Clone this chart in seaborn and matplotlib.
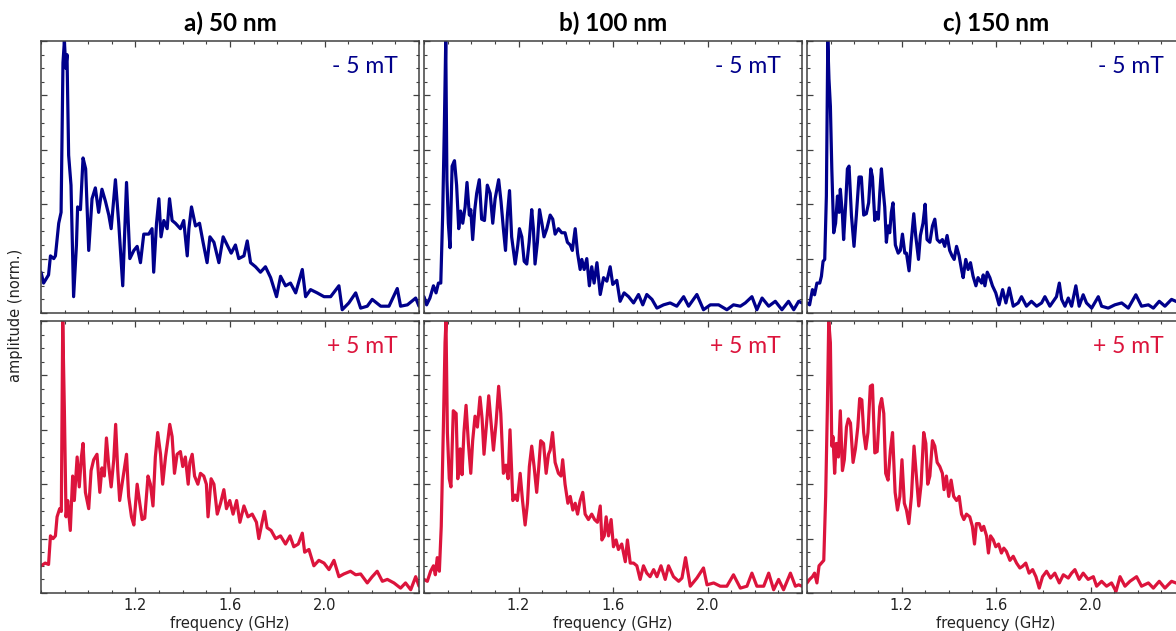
import numpy as np
import pandas as pd
import matplotlib
matplotlib.use("Agg")
import matplotlib.pyplot as plt
from matplotlib.ticker import MultipleLocator
import seaborn as sns

# --- Data (frequency in GHz, normalised amplitude) ---

# a) 50 nm, -5 mT
freq_a_minus = [0.800, 0.811, 0.832, 0.840, 0.854, 0.861, 0.875, 0.885, 0.893, 0.899, 0.905, 0.910, 0.917, 0.927,
                0.938, 0.950, 0.955, 0.967, 0.978, 0.989, 1.002, 1.016, 1.030, 1.044, 1.058, 1.073, 1.087, 1.097,
                1.115, 1.129, 1.146, 1.162, 1.176, 1.193, 1.207, 1.221, 1.235, 1.256, 1.270, 1.277, 1.289, 1.299,
                1.308, 1.320, 1.334, 1.344, 1.355, 1.369, 1.390, 1.404, 1.419, 1.426, 1.437, 1.454, 1.471, 1.486,
                1.503, 1.515, 1.532, 1.553, 1.571, 1.588, 1.605, 1.623, 1.637, 1.659, 1.673, 1.687, 1.708, 1.729,
                1.750, 1.772, 1.797, 1.814, 1.835, 1.856, 1.878, 1.906, 1.920, 1.941, 1.969, 1.998, 2.026, 2.061,
                2.075, 2.103, 2.132, 2.153, 2.181, 2.202, 2.238, 2.273, 2.308, 2.322, 2.351, 2.386, 2.400]
amp_a_minus = [0.15, 0.11, 0.14, 0.21, 0.20, 0.21, 0.33, 0.37, 0.92, 1.00, 0.90, 0.95, 0.58, 0.47,
               0.06, 0.25, 0.39, 0.38, 0.57, 0.53, 0.23, 0.42, 0.46, 0.37, 0.455, 0.41, 0.36, 0.31,
               0.49, 0.33, 0.10, 0.48, 0.20, 0.23, 0.245, 0.185, 0.29, 0.29, 0.31, 0.15, 0.33, 0.42,
               0.28, 0.34, 0.31, 0.42, 0.34, 0.33, 0.31, 0.34, 0.21, 0.31, 0.39, 0.32, 0.33, 0.26,
               0.185, 0.28, 0.26, 0.185, 0.28, 0.25, 0.22, 0.25, 0.20, 0.21, 0.265, 0.185, 0.17, 0.15,
               0.17, 0.13, 0.06, 0.135, 0.10, 0.11, 0.074, 0.16, 0.06, 0.086, 0.074, 0.06, 0.06, 0.10,
               0.012, 0.037, 0.074, 0.018, 0.025, 0.05, 0.025, 0.025, 0.09, 0.025, 0.03, 0.055, 0.025]

# a) 50 nm, +5 mT
freq_a_plus = [0.800, 0.818, 0.832, 0.840, 0.851, 0.861, 0.868, 0.879, 0.886, 0.892, 0.899, 0.906, 0.913, 0.924,
               0.934, 0.941, 0.953, 0.962, 0.971, 0.978, 0.988, 1.002, 1.012, 1.023, 1.037, 1.049, 1.058, 1.068,
               1.077, 1.087, 1.097, 1.108, 1.116, 1.125, 1.133, 1.143, 1.162, 1.171, 1.183, 1.193, 1.207, 1.218,
               1.228, 1.239, 1.253, 1.263, 1.274, 1.284, 1.294, 1.306, 1.315, 1.327, 1.338, 1.345, 1.355, 1.365,
               1.376, 1.390, 1.400, 1.411, 1.423, 1.430, 1.440, 1.450, 1.464, 1.475, 1.489, 1.500, 1.507, 1.520,
               1.532, 1.546, 1.560, 1.574, 1.585, 1.599, 1.613, 1.628, 1.642, 1.659, 1.676, 1.694, 1.712, 1.722,
               1.736, 1.746, 1.757, 1.774, 1.793, 1.814, 1.835, 1.854, 1.870, 1.889, 1.906, 1.916, 1.934, 1.955,
               1.976, 1.998, 2.019, 2.040, 2.061, 2.082, 2.110, 2.132, 2.153, 2.181, 2.202, 2.223, 2.245, 2.266,
               2.294, 2.322, 2.343, 2.365, 2.386, 2.400]
amp_a_plus = [0.10, 0.11, 0.105, 0.21, 0.20, 0.21, 0.28, 0.31, 0.30, 1.00, 0.67, 0.28, 0.34, 0.23,
              0.43, 0.34, 0.50, 0.39, 0.50, 0.55, 0.37, 0.31, 0.45, 0.49, 0.51, 0.37, 0.46, 0.43,
              0.57, 0.465, 0.39, 0.49, 0.62, 0.45, 0.34, 0.40, 0.51, 0.355, 0.28, 0.25, 0.40, 0.33,
              0.27, 0.275, 0.43, 0.40, 0.32, 0.50, 0.59, 0.51, 0.40, 0.50, 0.57, 0.62, 0.575, 0.44,
              0.51, 0.52, 0.465, 0.50, 0.40, 0.48, 0.51, 0.43, 0.40, 0.44, 0.43, 0.40, 0.28, 0.42,
              0.40, 0.29, 0.33, 0.38, 0.31, 0.34, 0.29, 0.34, 0.26, 0.32, 0.28, 0.29, 0.26, 0.20,
              0.26, 0.30, 0.24, 0.23, 0.20, 0.21, 0.18, 0.21, 0.17, 0.18, 0.22, 0.15, 0.16, 0.10,
              0.12, 0.11, 0.086, 0.12, 0.06, 0.07, 0.08, 0.067, 0.07, 0.037, 0.06, 0.08, 0.043, 0.05,
              0.037, 0.018, 0.037, 0.012, 0.06, 0.025]

# b) 100 nm, -5 mT
freq_b_minus = [0.800, 0.811, 0.825, 0.840, 0.851, 0.861, 0.871, 0.879, 0.886, 0.892, 0.897, 0.903, 0.910, 0.919,
                0.929, 0.938, 0.947, 0.955, 0.964, 0.974, 0.982, 0.992, 0.998, 1.006, 1.015, 1.023, 1.034, 1.044,
                1.056, 1.068, 1.080, 1.091, 1.101, 1.116, 1.126, 1.136, 1.145, 1.153, 1.162, 1.171, 1.186, 1.197,
                1.204, 1.214, 1.224, 1.235, 1.245, 1.256, 1.263, 1.270, 1.280, 1.289, 1.299, 1.308, 1.320, 1.334,
                1.345, 1.355, 1.369, 1.383, 1.397, 1.407, 1.419, 1.428, 1.440, 1.450, 1.461, 1.468, 1.478, 1.489,
                1.500, 1.510, 1.520, 1.532, 1.546, 1.560, 1.574, 1.588, 1.599, 1.616, 1.630, 1.647, 1.666, 1.687,
                1.708, 1.726, 1.743, 1.765, 1.786, 1.814, 1.842, 1.870, 1.899, 1.920, 1.955, 1.983, 2.012, 2.047,
                2.082, 2.110, 2.139, 2.160, 2.188, 2.209, 2.231, 2.259, 2.287, 2.315, 2.343, 2.365, 2.386, 2.400]
amp_b_minus = [0.06, 0.03, 0.055, 0.10, 0.074, 0.11, 0.11, 0.36, 0.68, 1.00, 0.49, 0.33, 0.24, 0.54,
               0.56, 0.47, 0.31, 0.375, 0.33, 0.39, 0.48, 0.36, 0.38, 0.27, 0.38, 0.44, 0.49, 0.345,
               0.34, 0.47, 0.44, 0.33, 0.42, 0.49, 0.41, 0.31, 0.23, 0.36, 0.45, 0.28, 0.18, 0.25,
               0.31, 0.28, 0.19, 0.18, 0.26, 0.38, 0.31, 0.18, 0.26, 0.38, 0.33, 0.28, 0.31, 0.36,
               0.345, 0.29, 0.31, 0.295, 0.295, 0.26, 0.25, 0.23, 0.31, 0.22, 0.16, 0.197, 0.16, 0.20,
               0.10, 0.17, 0.11, 0.185, 0.068, 0.13, 0.117, 0.17, 0.105, 0.12, 0.043, 0.074, 0.06, 0.037,
               0.068, 0.03, 0.068, 0.05, 0.018, 0.03, 0.037, 0.025, 0.06, 0.025, 0.068, 0.012, 0.03, 0.03,
               0.012, 0.03, 0.025, 0.037, 0.06, 0.012, 0.055, 0.025, 0.043, 0.012, 0.043, 0.012, 0.043, 0.037]

# b) 100 nm, +5 mT
freq_b_plus = [0.800, 0.814, 0.828, 0.840, 0.848, 0.856, 0.865, 0.873, 0.882, 0.889, 0.893, 0.899, 0.907, 0.914,
               0.924, 0.936, 0.943, 0.953, 0.961, 0.969, 0.978, 0.988, 0.998, 1.006, 1.016, 1.026, 1.037, 1.046,
               1.054, 1.065, 1.074, 1.084, 1.094, 1.105, 1.116, 1.125, 1.136, 1.147, 1.156, 1.164, 1.176, 1.186,
               1.195, 1.207, 1.217, 1.228, 1.238, 1.246, 1.256, 1.266, 1.277, 1.286, 1.294, 1.306, 1.317, 1.327,
               1.334, 1.344, 1.355, 1.369, 1.380, 1.387, 1.397, 1.409, 1.419, 1.430, 1.440, 1.450, 1.461, 1.472,
               1.482, 1.496, 1.510, 1.522, 1.534, 1.546, 1.553, 1.563, 1.571, 1.581, 1.592, 1.602, 1.613, 1.623,
               1.637, 1.652, 1.661, 1.673, 1.687, 1.701, 1.715, 1.729, 1.743, 1.757, 1.772, 1.786, 1.803, 1.821,
               1.835, 1.856, 1.878, 1.892, 1.907, 1.927, 1.955, 1.983, 1.998, 2.026, 2.054, 2.082, 2.110, 2.139,
               2.167, 2.188, 2.209, 2.238, 2.259, 2.280, 2.301, 2.322, 2.351, 2.372, 2.386, 2.400]
amp_b_plus = [0.05, 0.043, 0.08, 0.10, 0.067, 0.13, 0.08, 0.245, 0.61, 0.92, 1.00, 0.59, 0.42, 0.39,
              0.67, 0.66, 0.42, 0.53, 0.435, 0.59, 0.69, 0.55, 0.44, 0.56, 0.65, 0.61, 0.72, 0.64,
              0.51, 0.625, 0.725, 0.625, 0.525, 0.625, 0.76, 0.66, 0.44, 0.47, 0.42, 0.60, 0.34, 0.36,
              0.34, 0.44, 0.34, 0.25, 0.33, 0.465, 0.54, 0.465, 0.37, 0.465, 0.56, 0.55, 0.44, 0.51,
              0.525, 0.59, 0.48, 0.44, 0.43, 0.49, 0.40, 0.33, 0.355, 0.305, 0.33, 0.29, 0.34, 0.37,
              0.29, 0.27, 0.29, 0.27, 0.26, 0.32, 0.195, 0.21, 0.28, 0.21, 0.27, 0.17, 0.195, 0.16,
              0.18, 0.115, 0.195, 0.11, 0.11, 0.10, 0.05, 0.10, 0.073, 0.06, 0.086, 0.06, 0.10, 0.05,
              0.10, 0.06, 0.043, 0.055, 0.13, 0.025, 0.055, 0.092, 0.03, 0.037, 0.025, 0.025, 0.067, 0.018,
              0.025, 0.073, 0.025, 0.025, 0.073, 0.012, 0.05, 0.012, 0.073, 0.025, 0.03, 0.025]

# c) 150 nm, -5 mT
freq_c_minus = [0.800, 0.811, 0.823, 0.832, 0.842, 0.854, 0.861, 0.868, 0.875, 0.882, 0.888, 0.893, 0.899, 0.905,
                0.913, 0.921, 0.929, 0.936, 0.941, 0.950, 0.955, 0.964, 0.971, 0.978, 0.988, 0.999, 1.009, 1.020,
                1.030, 1.040, 1.051, 1.061, 1.070, 1.077, 1.087, 1.094, 1.102, 1.108, 1.115, 1.122, 1.129, 1.136,
                1.143, 1.150, 1.157, 1.164, 1.174, 1.186, 1.195, 1.204, 1.214, 1.221, 1.232, 1.241, 1.252, 1.260,
                1.272, 1.280, 1.291, 1.300, 1.308, 1.320, 1.331, 1.341, 1.351, 1.362, 1.373, 1.383, 1.393, 1.404,
                1.414, 1.423, 1.433, 1.444, 1.454, 1.461, 1.472, 1.482, 1.492, 1.503, 1.515, 1.524, 1.539, 1.546,
                1.553, 1.563, 1.574, 1.585, 1.599, 1.613, 1.628, 1.642, 1.656, 1.673, 1.694, 1.708, 1.729, 1.750,
                1.772, 1.793, 1.807, 1.828, 1.856, 1.868, 1.878, 1.892, 1.906, 1.920, 1.938, 1.952, 1.969, 1.983,
                2.005, 2.033, 2.047, 2.075, 2.103, 2.132, 2.160, 2.192, 2.216, 2.245, 2.266, 2.291, 2.315, 2.343,
                2.362, 2.380, 2.400]
amp_c_minus = [0.037, 0.03, 0.086, 0.067, 0.11, 0.11, 0.135, 0.19, 0.197, 0.43, 1.00, 0.86, 0.76, 0.53,
               0.295, 0.33, 0.43, 0.37, 0.455, 0.36, 0.27, 0.405, 0.53, 0.54, 0.36, 0.245, 0.36, 0.50,
               0.50, 0.36, 0.365, 0.405, 0.53, 0.50, 0.34, 0.37, 0.345, 0.44, 0.53, 0.455, 0.39, 0.26,
               0.32, 0.295, 0.37, 0.405, 0.25, 0.22, 0.23, 0.29, 0.22, 0.22, 0.155, 0.26, 0.365, 0.285,
               0.197, 0.285, 0.33, 0.40, 0.27, 0.26, 0.32, 0.345, 0.27, 0.26, 0.27, 0.245, 0.285, 0.23,
               0.21, 0.197, 0.245, 0.21, 0.16, 0.13, 0.197, 0.16, 0.185, 0.135, 0.10, 0.13, 0.11, 0.14,
               0.10, 0.15, 0.13, 0.10, 0.074, 0.03, 0.086, 0.037, 0.092, 0.025, 0.037, 0.06, 0.025, 0.043,
               0.025, 0.037, 0.06, 0.025, 0.06, 0.11, 0.05, 0.025, 0.055, 0.025, 0.10, 0.025, 0.067, 0.037,
               0.018, 0.06, 0.025, 0.018, 0.03, 0.037, 0.018, 0.067, 0.025, 0.03, 0.018, 0.043, 0.025, 0.05,
               0.043, 0.035, 0.03]

# c) 150 nm, +5 mT
freq_c_plus = [0.800, 0.811, 0.823, 0.832, 0.842, 0.851, 0.861, 0.871, 0.879, 0.886, 0.892, 0.899, 0.905, 0.910,
               0.917, 0.924, 0.933, 0.941, 0.950, 0.958, 0.967, 0.975, 0.984, 0.995, 1.005, 1.015, 1.023, 1.032,
               1.040, 1.049, 1.058, 1.068, 1.077, 1.087, 1.097, 1.108, 1.116, 1.125, 1.133, 1.143, 1.153, 1.162,
               1.173, 1.183, 1.193, 1.202, 1.212, 1.221, 1.231, 1.242, 1.253, 1.263, 1.273, 1.283, 1.294, 1.303,
               1.311, 1.320, 1.331, 1.341, 1.351, 1.362, 1.373, 1.380, 1.390, 1.400, 1.410, 1.421, 1.433, 1.444,
               1.454, 1.464, 1.475, 1.489, 1.500, 1.509, 1.517, 1.529, 1.539, 1.548, 1.560, 1.568, 1.577, 1.588,
               1.599, 1.611, 1.623, 1.633, 1.644, 1.659, 1.673, 1.687, 1.701, 1.712, 1.726, 1.740, 1.755, 1.769,
               1.783, 1.797, 1.814, 1.831, 1.849, 1.868, 1.885, 1.906, 1.920, 1.934, 1.952, 1.969, 1.990, 2.012,
               2.026, 2.047, 2.068, 2.089, 2.108, 2.125, 2.146, 2.167, 2.195, 2.216, 2.245, 2.266, 2.291, 2.315,
               2.343, 2.362, 2.380, 2.400]
amp_c_plus = [0.037, 0.05, 0.06, 0.073, 0.037, 0.10, 0.11, 0.12, 0.355, 0.67, 1.00, 0.92, 0.54, 0.575,
              0.44, 0.55, 0.50, 0.67, 0.45, 0.49, 0.61, 0.64, 0.625, 0.48, 0.53, 0.61, 0.715, 0.71,
              0.59, 0.53, 0.59, 0.76, 0.765, 0.515, 0.52, 0.685, 0.715, 0.66, 0.44, 0.415, 0.525, 0.59,
              0.37, 0.305, 0.355, 0.49, 0.33, 0.305, 0.255, 0.355, 0.54, 0.43, 0.32, 0.40, 0.59, 0.55,
              0.40, 0.43, 0.56, 0.54, 0.48, 0.465, 0.44, 0.38, 0.43, 0.355, 0.415, 0.355, 0.34, 0.355,
              0.29, 0.27, 0.29, 0.28, 0.245, 0.18, 0.255, 0.255, 0.23, 0.245, 0.21, 0.147, 0.21, 0.196,
              0.17, 0.18, 0.147, 0.165, 0.153, 0.12, 0.135, 0.11, 0.092, 0.098, 0.11, 0.073, 0.086, 0.06,
              0.018, 0.06, 0.08, 0.055, 0.073, 0.037, 0.067, 0.055, 0.073, 0.086, 0.05, 0.073, 0.05, 0.06,
              0.025, 0.043, 0.025, 0.037, 0.006, 0.06, 0.025, 0.043, 0.06, 0.025, 0.037, 0.018, 0.043, 0.018,
              0.043, 0.037, 0.03, 0.04]

titles = ["a) 50 nm", "b) 100 nm", "c) 150 nm"]
field_labels = ["- 5 mT", "+ 5 mT"]
x_ticks = [1.2, 1.6, 2.0]

# --- Styling ---
BLUE = "#00008B"
RED = "#DC143C"
SPINE = "#404040"

sns.set_style("ticks")
plt.rcParams["font.family"] = ["DejaVu Sans"]
plt.rcParams["axes.edgecolor"] = SPINE
plt.rcParams["axes.linewidth"] = 1.1

series = [
    [(freq_a_minus, amp_a_minus), (freq_b_minus, amp_b_minus), (freq_c_minus, amp_c_minus)],
    [(freq_a_plus, amp_a_plus), (freq_b_plus, amp_b_plus), (freq_c_plus, amp_c_plus)],
]
row_colors = [BLUE, RED]

# --- Layout: axes placed by hand (the last column runs past the right edge) ---
W, H = 1176, 631
fig = plt.figure(figsize=(W / 100, H / 100), dpi=100)
col_left = [41, 424, 807]
row_top = [41, 321]
ax_w, ax_h = 378, 272

for r in range(2):
    for c in range(3):
        ax = fig.add_axes([col_left[c] / W, 1 - (row_top[r] + ax_h) / H, ax_w / W, ax_h / H])
        f, a = series[r][c]
        df = pd.DataFrame({"freq": f, "amp": a})
        sns.lineplot(data=df, x="freq", y="amp", ax=ax, color=row_colors[r],
                     linewidth=2.3, estimator=None, sort=False)
        ax.set_xlim(0.8, 2.4)
        ax.set_ylim(0, 1)
        ax.xaxis.set_major_locator(MultipleLocator(0.4))
        ax.xaxis.set_minor_locator(MultipleLocator(0.1))
        ax.yaxis.set_major_locator(MultipleLocator(0.2))
        ax.yaxis.set_minor_locator(MultipleLocator(0.05))
        ax.set_xticks(x_ticks)
        ax.tick_params(which="both", direction="in", top=True, right=True, color=SPINE,
                       labelleft=False, labelsize=10.5, labelcolor="#222222")
        ax.tick_params(which="major", length=4, width=0.9)
        ax.tick_params(which="minor", length=2.5, width=0.8)
        ax.set_ylabel("")
        if r == 0:
            ax.tick_params(labelbottom=False)
            ax.set_xlabel("")
            ax.set_title(titles[c], fontsize=17.5, fontweight="bold", color="black",
                         family=["Lato", "DejaVu Sans"], pad=7)
        else:
            ax.set_xticklabels([f"{t:.1f}" for t in x_ticks])
            ax.set_xlabel("frequency (GHz)", fontsize=10.5, labelpad=2, color="#222222")
        ax.text(0.945, 0.905, field_labels[r], transform=ax.transAxes, ha="right", va="center",
                fontsize=16.5, color=row_colors[r], family=["Lato", "DejaVu Sans"])

fig.text(0.013, 0.5, "amplitude (norm.)", rotation=90, ha="center", va="center",
         fontsize=10.5, color="#222222")

fig.savefig("out.png", dpi=100)
